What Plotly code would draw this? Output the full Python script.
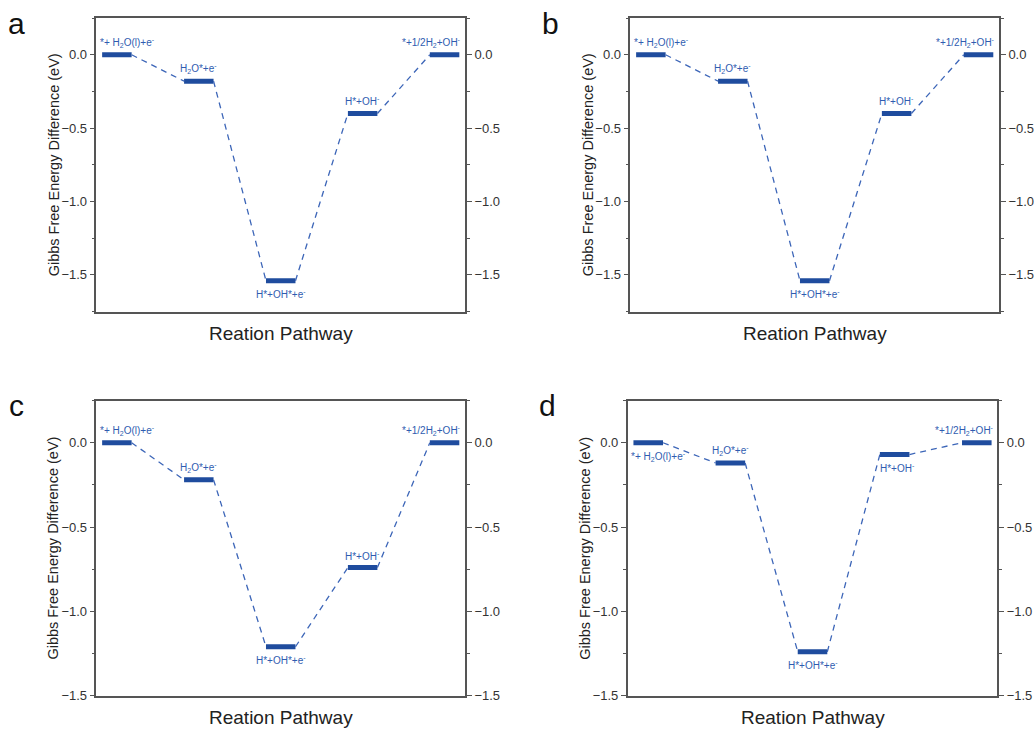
import plotly.graph_objects as go

# Free-energy levels (eV) along the reaction pathway for each panel
steps = [1, 2, 3, 4, 5]
step_labels = [
    "*+ H<sub>2</sub>O(l)+e<sup>-</sup>",
    "H<sub>2</sub>O*+e<sup>-</sup>",
    "H*+OH*+e<sup>-</sup>",
    "H*+OH<sup>-</sup>",
    "*+1/2H<sub>2</sub>+OH<sup>-</sup>",
]
energy_a = [0.0, -0.18, -1.54, -0.40, 0.0]
energy_b = [0.0, -0.18, -1.54, -0.40, 0.0]
energy_c = [0.0, -0.22, -1.21, -0.74, 0.0]
energy_d = [0.0, -0.12, -1.24, -0.07, 0.0]
panel_letters = ["a", "b", "c", "d"]
yranges = [[-1.75, 0.25], [-1.75, 0.25], [-1.5, 0.25], [-1.5, 0.25]]
# label placement per panel: "up" above the level, "down" below it
label_sides = [
    ["up", "up", "down", "up", "up"],
    ["up", "up", "down", "up", "up"],
    ["up", "up", "down", "up", "up"],
    ["down", "up", "down", "down", "up"],
]

W, H = 1034, 736
# plot-area boxes in pixels: (left, right, top, bottom)
boxes = [
    (96.5, 465.5, 18.3, 315.0),
    (631.0, 1000.0, 18.3, 315.0),
    (96.5, 465.5, 405.0, 703.3),
    (628.3, 998.3, 405.0, 703.3),
]

BAR = "#1f4c9e"
DASH = "#3d66b8"
AX = "#555555"
FONT = "Arial, Liberation Sans, sans-serif"
half = 0.18

fig = go.Figure()
annotations = []
layout = {}

for i, energies in enumerate([energy_a, energy_b, energy_c, energy_d]):
    n = i + 1
    xa, ya, yr = f"x{n}", f"y{n}", f"y{n + 4}"
    L, R, T, B = boxes[i]
    dom_x = [L / W, R / W]
    dom_y = [1 - B / H, 1 - T / H]

    # dashed connectors between consecutive levels (on the right-hand
    # axis, which shares the same range, so that axis gets drawn)
    cx, cy = [], []
    for k in range(len(steps) - 1):
        cx += [steps[k] + half, steps[k + 1] - half, None]
        cy += [energies[k], energies[k + 1], None]
    fig.add_trace(go.Scatter(x=cx, y=cy, mode="lines", xaxis=xa, yaxis=yr,
                             line=dict(color=DASH, width=1.3, dash="6px,5px"),
                             showlegend=False, hoverinfo="skip"))
    # level bars
    bx, by = [], []
    for s, e in zip(steps, energies):
        bx += [s - half, s + half, None]
        by += [e, e, None]
    fig.add_trace(go.Scatter(x=bx, y=by, mode="lines", xaxis=xa, yaxis=ya,
                             line=dict(color=BAR, width=5),
                             showlegend=False, hoverinfo="skip"))

    # species labels
    for k, (s, e, txt) in enumerate(zip(steps, energies, step_labels)):
        up = label_sides[i][k] == "up"
        if k == 0:
            xpos, xanc, xsh = s - half, "left", -4
        elif k == len(steps) - 1:
            xpos, xanc, xsh = s + half, "right", 4
        elif label_sides[i][k] == "down" and k == 3 and i == 3:
            xpos, xanc, xsh = s - half, "left", -2
        else:
            xpos, xanc, xsh = s, "center", 0
        annotations.append(dict(
            x=xpos, y=e, xref=xa, yref=ya, text=txt, showarrow=False,
            xanchor=xanc, yanchor="bottom" if up else "top",
            xshift=xsh, yshift=4 if up else -5,
            font=dict(family=FONT, size=10, color="#2f5cb0")))

    yr_rng = yranges[i]
    layout[f"xaxis{n}"] = dict(
        domain=dom_x, anchor=ya, range=[0.75, 5.25], showgrid=False,
        zeroline=False, showticklabels=False, ticks="",
        showline=True, linecolor=AX, linewidth=1.5, mirror=True)
    tick_common = dict(
        range=yr_rng, dtick=0.5, tick0=0, tickformat=".1f",
        showgrid=False, zeroline=False, showline=True, linecolor=AX,
        linewidth=1.5, ticks="outside", ticklen=5, tickwidth=1.2,
        tickcolor=AX,
        minor=dict(dtick=0.25, tick0=0, ticks="outside", ticklen=3,
                   tickwidth=1, tickcolor=AX),
        tickfont=dict(family=FONT, size=13, color="#333333"))
    layout[f"yaxis{n}"] = dict(domain=dom_y, anchor=xa, side="left",
                               **tick_common)
    layout[f"yaxis{n + 4}"] = dict(overlaying=ya, anchor=xa, side="right",
                                   **tick_common)

    # axis titles and panel letter
    annotations.append(dict(
        x=(L + R) / 2 / W, y=1 - (B + 22) / H, xref="paper", yref="paper",
        text="Reation Pathway", showarrow=False, xanchor="center",
        yanchor="middle", font=dict(family=FONT, size=19, color="#222222")))
    annotations.append(dict(
        x=(L - 43) / W, y=1 - (T + B) / 2 / H, xref="paper", yref="paper",
        text="Gibbs Free Energy Difference (eV)", showarrow=False,
        textangle=-90, xanchor="center", yanchor="middle",
        font=dict(family=FONT, size=14.5, color="#222222")))
    annotations.append(dict(
        x=(L - 80) / W, y=1 - (T + 5) / H, xref="paper", yref="paper",
        text=panel_letters[i], showarrow=False, xanchor="center",
        yanchor="middle", font=dict(family=FONT, size=30, color="#111111")))

fig.update_layout(
    width=W, height=H, margin=dict(l=0, r=0, t=0, b=0),
    paper_bgcolor="white", plot_bgcolor="white",
    annotations=annotations, showlegend=False, **layout)

fig.write_html("out.html")
